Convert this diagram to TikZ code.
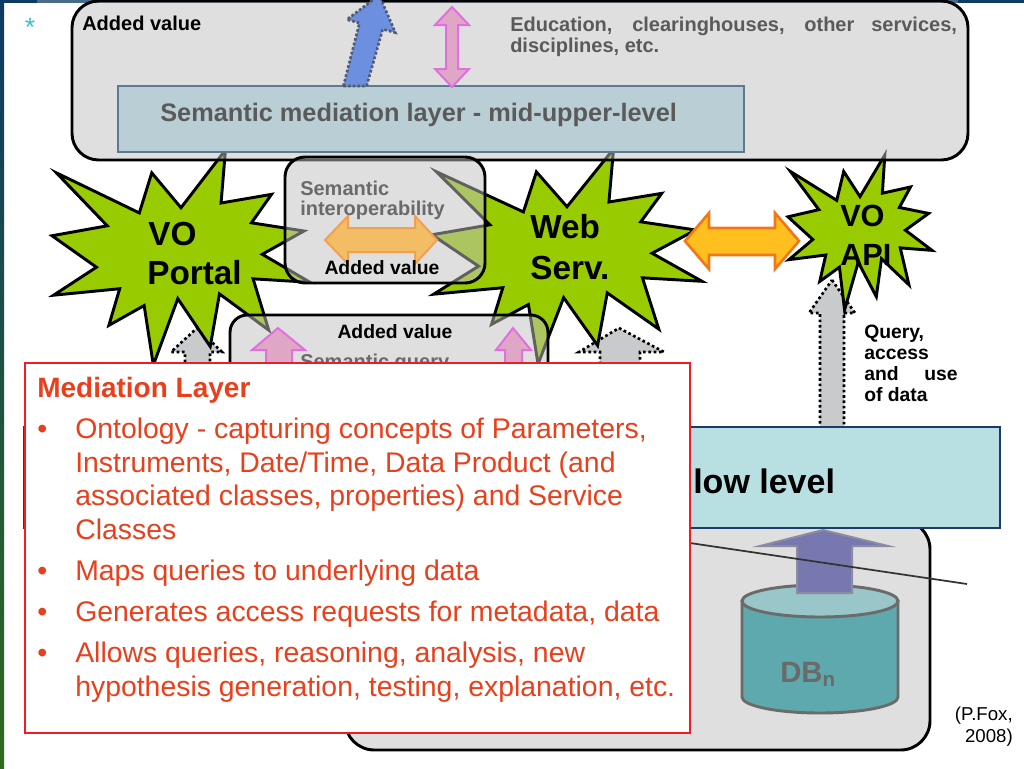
\documentclass[tikz,border=0pt]{standalone}
\usepackage{fontspec}
\setmainfont{Liberation Sans}
\definecolor{sealgreen}{HTML}{99CC00}
\definecolor{glassfill}{HTML}{C0C0C0}
\definecolor{dotfill}{HTML}{C8CACC}
\definecolor{pinkfill}{HTML}{DFA6C6}
\definecolor{pinkline}{HTML}{E070E0}
\definecolor{bluefill}{HTML}{6D8FE0}
\definecolor{blueline}{HTML}{505A70}
\definecolor{midfill}{HTML}{B9CFD5}
\definecolor{midline}{HTML}{5E7A92}
\definecolor{txtgray}{HTML}{5A5A5A}
\definecolor{semgray}{HTML}{6A6A6A}
\definecolor{orfill}{HTML}{F3BD66}
\definecolor{orline}{HTML}{F0A050}
\definecolor{gofill}{HTML}{FFBF1E}
\definecolor{goline}{HTML}{F07818}
\definecolor{lowfill}{HTML}{B8DFE2}
\definecolor{lowline}{HTML}{1C3B6B}
\definecolor{redline}{HTML}{EE1D23}
\definecolor{redtxt}{HTML}{E8401C}
\definecolor{cylside}{HTML}{5EA9AE}
\definecolor{cyltop}{HTML}{98C6C9}
\definecolor{cylline}{HTML}{6B6B6B}
\definecolor{purfill}{HTML}{7878B0}
\definecolor{purline}{HTML}{8C8CA0}
\definecolor{navy}{HTML}{0E3A66}
\definecolor{darkgreen}{HTML}{2F6A1E}
\definecolor{topbar}{HTML}{4A6A8A}
\definecolor{astcol}{HTML}{3CC0D0}
\tikzset{
  seal/.style={fill=sealgreen,draw=black,line width=2.2pt,line join=miter},
  glass/.style={fill=glassfill,fill opacity=0.5,draw=black,line width=2.2pt},
  dotarrow/.style={fill=dotfill,draw=black,line width=2pt,dash pattern=on 2pt off 2pt},
  pinkarrow/.style={fill=pinkfill,draw=pinkline,line width=1.5pt},
  lbl/.style={inner sep=0pt,anchor=base west},
  fA/.style={font=\fontsize{15}{18}\selectfont\bfseries},
  fB/.style={font=\fontsize{14.5}{17}\selectfont\bfseries},
  fStar/.style={font=\fontsize{25}{30}\selectfont\bfseries},
  fRed/.style={font=\fontsize{21.3}{25}\selectfont,text=redtxt},
}
% irregular explosion outline in a unit box (x to the right, y downwards)
\newcommand{\sealdraw}{%
    \path[seal] (0.5,0.2685) -- (0.3867,0.1063) -- (0.3385,0.2926) -- (0.0171,0.1063)
      -- (0.2142,0.3526) -- (0,0.3988) -- (0.1723,0.5451) -- (0.0063,0.6753)
      -- (0.2623,0.6452) -- (0.2205,0.8156) -- (0.3572,0.7235) -- (0.3928,1)
      -- (0.4876,0.6914) -- (0.6133,0.9138) -- (0.6491,0.6693) -- (0.8400,0.8377)
      -- (0.7795,0.5992) -- (1,0.6153) -- (0.8151,0.4850) -- (0.9767,0.3767)
      -- (0.7732,0.3387) -- (0.8509,0.2063) -- (0.6553,0.2465) -- (0.6723,0) -- cycle;}
\begin{document}
\begin{tikzpicture}[x=0.75pt,y=-0.75pt]
\useasboundingbox (0,0) rectangle (1024,768);
\clip (0,0) rectangle (1024,768);
\fill[white] (0,0) rectangle (1024,768);
% slide frame
\fill[topbar] (0,0) rectangle (1024,3);
\fill[navy] (0,0) rectangle (37,3);
\fill[navy] (958,0) rectangle (1024,3);
\shade[top color=navy,bottom color=darkgreen] (0,0) rectangle (4,768);
\node[inner sep=0pt,text=astcol,font=\fontsize{20}{22}\selectfont] (ast) at (30,27) {*};

% dotted grey arrows (behind stars)
\path[dotarrow] (832,280) -- (855,313) -- (844,313) -- (844,440) -- (820,440) -- (820,313) -- (809,313) -- cycle;
\path[dotarrow] (619,328) -- (664,352) -- (640,352) -- (640,450) -- (600,450) -- (600,352) -- (579,352) -- cycle;
\path[dotarrow] (197,328) -- (222,352) -- (210,352) -- (210,420) -- (185,420) -- (185,352) -- (171,352) -- cycle;

% explosion stars
\begin{scope}[shift={(52,150)},xscale=258,yscale=215]\sealdraw\end{scope}
\begin{scope}[shift={(432,149)},xscale=270,yscale=215]\sealdraw\end{scope}
\begin{scope}[shift={(788,155)},xscale=144,yscale=155]\sealdraw\end{scope}

% top box
\path[glass,rounded corners=20pt] (72,1) rectangle (968,160);
\path[fill=midfill,draw=midline,line width=2.2pt] (118,86) rectangle (744,152);
\node[lbl,fA] (addtop) at (82,30) {Added value};
\node[lbl,fA,text=txtgray] (edu1) at (510,31) {\makebox[335pt][s]{Education, clearinghouses, other services,}};
\node[lbl,fA,text=txtgray] (edu2) at (510,52) {disciplines, etc.};
\node[lbl,font=\fontsize{19}{22}\selectfont\bfseries,text=txtgray] (midtxt) at (160,121) {Semantic mediation layer - mid-upper-level};
% blue tilted arrow
\path[fill=bluefill,draw=blueline,line width=2pt,dash pattern=on 2pt off 1.5pt]
  (343.4,86) -- (359.5,23.0) -- (346.9,19.6) -- (379.3,-4.8) -- (395.3,32.6) -- (382.7,29.2) -- (366.6,86) -- cycle;
% pink double arrow
\path[pinkarrow] (452,7) -- (469,25) -- (458,25) -- (458,69) -- (469,69) -- (452,87) -- (435,69) -- (446,69) -- (446,25) -- (435,25) -- cycle;

% semantic interoperability box
\path[glass,rounded corners=15pt] (285,157) rectangle (485,283);
\path[fill=orfill,draw=orline,line width=1.5pt] (325,240) -- (348,216) -- (348,228) -- (415,228) -- (415,216) -- (437,240) -- (415,264) -- (415,252) -- (348,252) -- (348,264) -- cycle;
\node[lbl,fA,text=semgray] (si1) at (300,195) {Semantic};
\node[lbl,fA,text=semgray] (si2) at (300,215) {interoperability};
\node[inner sep=0pt,anchor=base,fB] (siadd) at (382,274) {Added value};

% semantic query box
\path[glass,rounded corners=13pt] (230,315) rectangle (548,420);
\path[pinkarrow] (278,328) -- (305,350) -- (292,350) -- (292,400) -- (266,400) -- (266,350) -- (252,350) -- cycle;
\path[pinkarrow] (513,328) -- (531,350) -- (522,350) -- (522,400) -- (505,400) -- (505,350) -- (496,350) -- cycle;
\node[inner sep=0pt,anchor=base,fB] (sqadd) at (395,338) {Added value};
\node[lbl,fA,text=semgray] (sq) at (300,368) {Semantic query};

% Web - API double arrow
\path[fill=gofill,draw=goline,line width=2pt] (685,241) -- (709,213) -- (709,228) -- (775,228) -- (775,213) -- (799,241) -- (775,269) -- (775,255) -- (709,255) -- (709,269) -- cycle;

% star labels
\node[lbl,fStar] (vo1) at (148,245) {VO};
\node[lbl,fStar] (vo2) at (147,284) {Portal};
\node[lbl,fStar] (ws1) at (530,238) {Web};
\node[lbl,fStar] (ws2) at (530,279) {Serv.};
\node[lbl,font=\fontsize{23}{27}\selectfont\bfseries] (api1) at (840,226) {VO};
\node[lbl,font=\fontsize{23}{27}\selectfont\bfseries] (api2) at (840,265) {API};

% query text
\node[lbl,fB] (q1) at (864,338) {Query,};
\node[lbl,fB] (q2) at (864,359) {access};
\node[lbl,fB] (q3) at (864,380) {\makebox[70pt][s]{and use}};
\node[lbl,fB] (q4) at (864,401) {of data};

% bottom grey box with DB
\path[glass,rounded corners=22pt] (345,520) rectangle (930,750);
\path[fill=cylside,draw=cylline,line width=2.2pt] (742,601) -- (742,697) arc[start angle=180,end angle=0,x radius=78,y radius=16] -- (898,601) -- cycle;
\path[fill=cyltop,draw=cylline,line width=2.2pt] (820,601) ellipse[x radius=78,y radius=16];
\path[fill=purfill,draw=purline,line width=1.5pt] (823,530) -- (888,546) -- (852,546) -- (852,593) -- (797,593) -- (797,546) -- (760,546) -- cycle;
\coordinate (la) at (690,543);
\coordinate (lb) at (967,584);
\draw[black!80,line width=1.3pt] (la) -- (lb);
\node[lbl,font=\fontsize{22}{26}\selectfont\bfseries,text=semgray] (db) at (780,682) {DB\textsubscript{n}};

% low level bar
\path[fill=lowfill,draw=lowline,line width=2.2pt] (24,427) rectangle (1000,528);
\node[lbl,font=\fontsize{25.5}{30}\selectfont\bfseries] (low) at (693,493) {low level};

% red callout
\path[fill=white,draw=redline,line width=2.2pt] (25,363) rectangle (690,733);
\node[lbl,font=\fontsize{21}{25}\selectfont\bfseries,text=redtxt] (mtitle) at (37,397) {Mediation Layer};
\node[lbl,fRed] (b1) at (37,438) {•};
\node[lbl,fRed] (b2) at (37,580) {•};
\node[lbl,fRed] (b3) at (37,621) {•};
\node[lbl,fRed] (b4) at (37,662) {•};
\node[lbl,fRed] (l1) at (75,438) {Ontology - capturing concepts of Parameters,};
\node[lbl,fRed] (l2) at (75,472) {Instruments, Date/Time, Data Product (and};
\node[lbl,fRed] (l3) at (75,505) {associated classes, properties) and Service};
\node[lbl,fRed] (l4) at (75,539) {Classes};
\node[lbl,fRed] (l5) at (75,580) {Maps queries to underlying data};
\node[lbl,fRed] (l6) at (75,621) {Generates access requests for metadata, data};
\node[lbl,fRed] (l7) at (75,662) {Allows queries, reasoning, analysis, new};
\node[lbl,fRed] (l8) at (75,696) {hypothesis generation, testing, explanation, etc.};

% citation
\node[inner sep=0pt,anchor=base east,font=\fontsize{14}{16}\selectfont] (cit1) at (1013,720) {(P.Fox,};
\node[inner sep=0pt,anchor=base east,font=\fontsize{14}{16}\selectfont] (cit2) at (1013,742) {2008)};
\end{tikzpicture}
\end{document}
